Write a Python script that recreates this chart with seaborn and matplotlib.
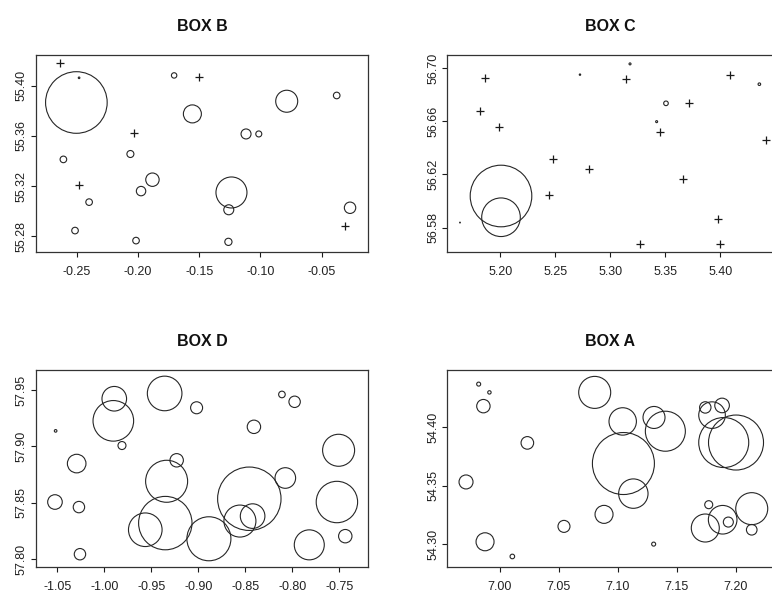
import numpy as np
import pandas as pd
import matplotlib
matplotlib.use("Agg")
import matplotlib.pyplot as plt
import seaborn as sns

sns.set_theme(style="white")
plt.rcParams['font.family'] = ['Liberation Sans', 'DejaVu Sans']

# ---------------- data ----------------
# value = bubble magnitude (0 -> drawn as '+')
b_x = [-0.2636, -0.2503, -0.2481, -0.1705, -0.1504, -0.1556, -0.0786, -0.0378,
       -0.2032, -0.1118, -0.1014, -0.2609, -0.2062, -0.1882, -0.1975, -0.2478,
       -0.2399, -0.1237, -0.1259, -0.0269, -0.0310, -0.2514, -0.2016, -0.1262]
b_y = [55.4179, 55.3867, 55.4064, 55.4083, 55.4072, 55.3776, 55.3877, 55.3923,
       55.3624, 55.3616, 55.3616, 55.3413, 55.3456, 55.3251, 55.3160, 55.3205,
       55.3072, 55.3149, 55.3011, 55.3027, 55.2880, 55.2845, 55.2765, 55.2755]
b_v = [0, 30.8, 0.8, 2.7, 0, 9.0, 11.0, 3.3,
       0, 5.0, 3.0, 3.3, 3.5, 6.7, 4.7, 0,
       3.3, 15.5, 5.0, 5.7, 0, 3.3, 3.3, 3.6]

c_x = [5.1864, 5.1818, 5.1985, 5.2479, 5.2806, 5.2445, 5.3139, 5.4085, 5.3712,
       5.3452, 5.3664, 5.3979, 5.3994, 5.3270, 5.4415, 5.3506, 5.4355, 5.3179,
       5.2724, 5.3421, 5.1633, 5.2006, 5.2006]
c_y = [56.6925, 56.6676, 56.6560, 56.6315, 56.6242, 56.6048, 56.6917, 56.6950,
       56.6741, 56.6523, 56.6169, 56.5863, 56.5677, 56.5677, 56.6460, 56.6736,
       56.6880, 56.7033, 56.6952, 56.6598, 56.5838, 56.6038, 56.5878]
c_v = [0, 0, 0, 0, 0, 0, 0, 0, 0,
       0, 0, 0, 0, 0, 0, 2.3, 1.3, 1.0,
       0.7, 1.0, 0.4, 30.8, 19.3]

d_x = [-1.0518, -1.0294, -1.0525, -1.0270, -1.0259, -0.9894, -0.9904, -0.9812,
       -0.9358, -0.9018, -0.9230, -0.9337, -0.9351, -0.9564, -0.8887, -0.8557,
       -0.8422, -0.8457, -0.8408, -0.8110, -0.7975, -0.8074, -0.7507, -0.7525,
       -0.7819, -0.7436]
d_y = [57.9138, 57.8848, 57.8507, 57.8462, 57.8044, 57.9423, 57.9227, 57.9008,
       57.9470, 57.9343, 57.8877, 57.8691, 57.8320, 57.8261, 57.8181, 57.8338,
       57.8382, 57.8536, 57.9174, 57.9461, 57.9396, 57.8720, 57.8966, 57.8507,
       57.8127, 57.8204]
d_v = [1.3, 9.3, 7.3, 5.7, 5.7, 12.3, 20.3, 4.0,
       17.3, 6.0, 6.7, 21.0, 26.7, 16.8, 22.0, 16.0,
       12.3, 31.7, 6.7, 3.3, 5.7, 10.3, 16.0, 20.7,
       15.0, 6.7]

a_x = [6.9822, 6.9913, 6.9862, 7.0234, 6.9715, 6.9876, 7.0107, 7.0544, 7.0883,
       7.1303, 7.0804, 7.1041, 7.1047, 7.1131, 7.1306, 7.1402, 7.1740, 7.1882,
       7.1797, 7.1896, 7.2000, 7.1769, 7.1740, 7.1887, 7.1935, 7.2133, 7.2133]
a_y = [54.4372, 54.4301, 54.4183, 54.3868, 54.3533, 54.3020, 54.2894, 54.3152,
       54.3255, 54.3000, 54.4301, 54.4052, 54.3691, 54.3433, 54.4086, 54.3968,
       54.4172, 54.4189, 54.4106, 54.3871, 54.3871, 54.3338, 54.3138, 54.3209,
       54.3189, 54.3304, 54.3123]
a_v = [2.0, 1.7, 6.7, 6.3, 7.0, 9.0, 2.3, 6.0, 9.0,
       2.0, 16.0, 13.7, 31.0, 14.7, 11.0, 20.0, 5.7, 7.3,
       13.3, 25.0, 27.5, 4.0, 14.0, 14.3, 5.0, 16.0, 5.3]

titles = ["BOX B", "BOX C", "BOX D", "BOX A"]

b_xticks = [-0.25, -0.20, -0.15, -0.10, -0.05]
b_yticks = [55.28, 55.32, 55.36, 55.40]
c_xticks = [5.20, 5.25, 5.30, 5.35, 5.40]
c_yticks = [56.58, 56.62, 56.66, 56.70]
d_xticks = [-1.05, -1.00, -0.95, -0.90, -0.85, -0.80, -0.75]
d_yticks = [57.80, 57.85, 57.90, 57.95]
a_xticks = [7.00, 7.05, 7.10, 7.15, 7.20]
a_yticks = [54.30, 54.35, 54.40]

# ---------------- layout ----------------
W, H = 772, 595
fig = plt.figure(figsize=(W / 100, H / 100), dpi=100)

def px_rect(l, t, r, b):
    return [l / W, 1 - b / H, (r - l) / W, (b - t) / H]

panels = [
    (titles[0], b_x, b_y, b_v, b_xticks, b_yticks, px_rect(35.7, 55, 368.3, 251.5),
     (-0.2835, -0.0120), (55.2678, 55.4246)),
    (titles[1], c_x, c_y, c_v, c_xticks, c_yticks, px_rect(447, 55, 773, 251.5),
     (5.1515, 5.4479), (56.5620, 56.7100)),
    (titles[2], d_x, d_y, d_v, d_xticks, d_yticks, px_rect(35.7, 370, 368.3, 566.5),
     (-1.0730, -0.7191), (57.7935, 57.9678)),
    (titles[3], a_x, a_y, a_v, a_xticks, a_yticks, px_rect(447, 370, 773, 566.5),
     (6.9554, 7.2313), (54.2808, 54.4493)),
]

ink = "#1a1a1a"
px2pt = 0.72

for title, xs, ys, vs, xt, yt, rect, xl, yl in panels:
    ax = fig.add_axes(rect)
    df = pd.DataFrame({"x": xs, "y": ys, "v": vs})
    circ = df[df["v"] > 0]
    plus = df[df["v"] == 0]
    sizes = (2 * circ["v"].to_numpy() * px2pt) ** 2
    sns.scatterplot(data=circ, x="x", y="y", ax=ax, marker="o", s=sizes,
                    facecolors="none", edgecolors="#262626", linewidths=0.8,
                    legend=False)
    if len(plus):
        sns.scatterplot(data=plus, x="x", y="y", ax=ax, marker="+", s=(7.5 * px2pt) ** 2,
                        color=ink, linewidths=0.9, legend=False)
    ax.set_xlim(*xl)
    ax.set_ylim(*yl)
    ax.set_xticks(xt)
    ax.set_yticks(yt)
    ax.set_xticklabels([f"{v:.2f}" for v in xt])
    ax.set_yticklabels([f"{v:.2f}" for v in yt], rotation=90, va="center")
    ax.set_xlabel("")
    ax.set_ylabel("")
    ax.tick_params(axis="both", which="major", direction="out", length=3.6, width=0.8,
                   color=ink, labelsize=9, labelcolor="#222222", bottom=True, left=True)
    ax.tick_params(axis="x", pad=6.5)
    ax.tick_params(axis="y", pad=2)
    for sp in ax.spines.values():
        sp.set_visible(True)
        sp.set_color("#333333")
        sp.set_linewidth(0.9)
    ax.set_title(title, fontsize=11.5, fontweight="bold", pad=17.5, color="#111111")
    ax.grid(False)

fig.savefig("out.png", dpi=100)
